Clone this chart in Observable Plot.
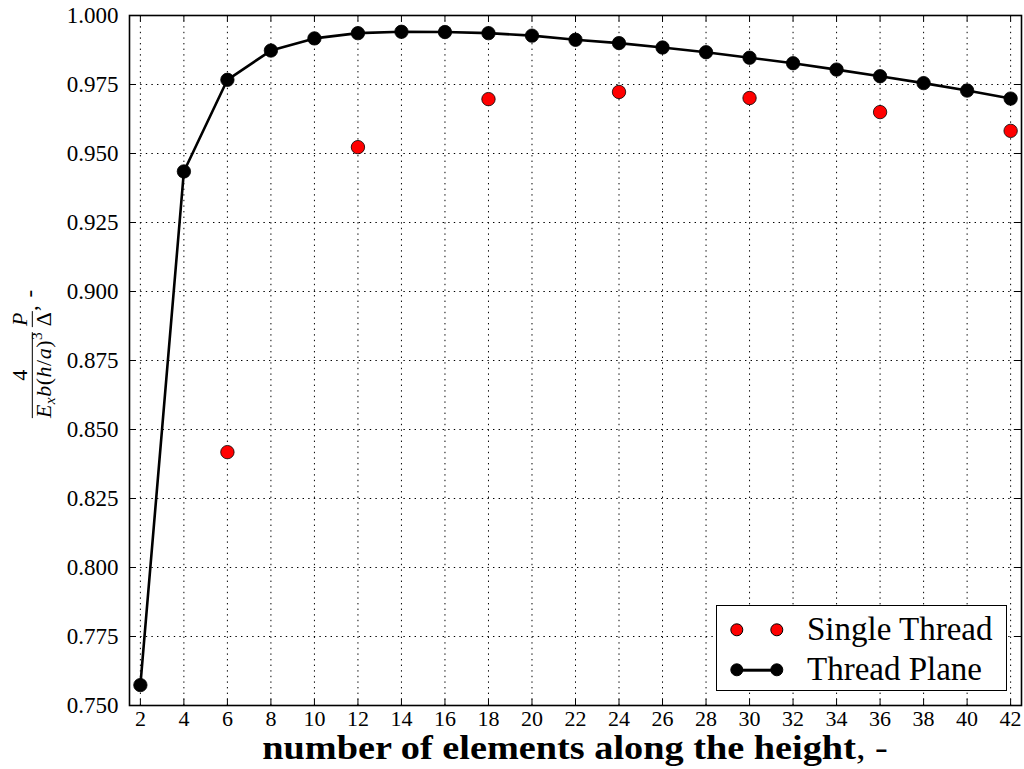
<!DOCTYPE html>
<html>
<head>
<meta charset="utf-8">
<script src="https://cdn.jsdelivr.net/npm/d3@7"></script>
<script src="https://cdn.jsdelivr.net/npm/@observablehq/plot@0.6"></script>
<style>
  html, body { margin: 0; padding: 0; background: white; }
  #wrap { position: relative; width: 1024px; height: 769px; overflow: hidden; font-family: "Liberation Serif", serif; color: black; }
  #wrap svg { position: absolute; left: 0; top: 0; z-index: 0; }
  .over { z-index: 2; }
  #xlabel { position: absolute; left: 575px; top: 739px; transform: translateX(-50%) scaleX(1.16); white-space: nowrap;
            font-size: 33px; line-height: 0.6; }
  #xlabel b { font-weight: bold; }
  #ylabel { position: absolute; left: 32px; top: 354px; transform: translate(-50%, -50%) rotate(-90deg);
            white-space: nowrap; font-size: 23px; line-height: 1; }
  .m { font-size: 22px; letter-spacing: 0.5px; }
  .frac { display: inline-flex; flex-direction: column; align-items: stretch; vertical-align: middle; text-align: center; line-height: 0.85; }
  .frac .num { border-bottom: 1.1px solid black; padding: 0 1px 2px 1px; }
  .frac .den { padding-top: 2px; }
  .m sub, .m sup { font-size: 70%; line-height: 0; }
  .m sub { vertical-align: -0.25em; }
  .m sup { vertical-align: 0.55em; }
  #legend { position: absolute; left: 716px; top: 605px; width: 291px; height: 86px; box-sizing: border-box;
            border: 1.5px solid black; background: white; }
  .lg-row { position: absolute; left: 0; width: 100%; height: 0; }
  .lg-dot { position: absolute; width: 13.4px; height: 13.4px; border-radius: 50%; box-sizing: border-box;
            transform: translate(-50%, -50%); top: 0; }
  .lg-line { position: absolute; height: 2.6px; transform: translateY(-50%); top: 0; background: black; }
  .lg-text { position: absolute; left: 90px; top: 0; transform: translateY(-52%); font-size: 33px; line-height: 1; white-space: nowrap; }
</style>
</head>
<body>
<div id="wrap">
  <div id="ylabel" class="over"><span class="m"><span class="frac"><span class="num">4</span><span class="den"><i>E</i><sub><i>x</i></sub><i>b</i>(<i>h</i>/<i>a</i>)<sup>3</sup></span></span>&#8201;<span class="frac"><span class="num"><i>P</i></span><span class="den">Δ</span></span></span><span>, &#8202;-</span></div>
  <div id="xlabel" class="over"><b>number of elements along the height</b>, -</div>
  <div id="legend" class="over"></div>
</div>
<script>
// ---------- data ----------
const elements = [2, 4, 6, 8, 10, 12, 14, 16, 18, 20, 22, 24, 26, 28, 30, 32, 34, 36, 38, 40, 42];
const threadPlane = [0.7574, 0.9435, 0.9767, 0.9873, 0.9917, 0.9936, 0.9941, 0.9940, 0.9936, 0.9927,
                     0.9912, 0.9900, 0.9884, 0.9867, 0.9847, 0.9827, 0.9804, 0.9780, 0.9755, 0.9728, 0.9699];
const singleElements = [6, 12, 18, 24, 30, 36, 42];
const singleThread = [0.8418, 0.9523, 0.9697, 0.9723, 0.9701, 0.9650, 0.9582];
const xTicks = [2, 4, 6, 8, 10, 12, 14, 16, 18, 20, 22, 24, 26, 28, 30, 32, 34, 36, 38, 40, 42];
const yTicks = [0.750, 0.775, 0.800, 0.825, 0.850, 0.875, 0.900, 0.925, 0.950, 0.975, 1.000];
const yTickLabels = ["0.750", "0.775", "0.800", "0.825", "0.850", "0.875", "0.900", "0.925", "0.950", "0.975", "1.000"];
const seriesNames = ["Single Thread", "Thread Plane"];

const planeData = elements.map((x, i) => ({x, y: threadPlane[i]}));
const singleData = singleElements.map((x, i) => ({x, y: singleThread[i]}));

const W = 1024, H = 769, mL = 129, mR = 3, mT = 15, mB = 64;
const plotW = W - mL - mR, plotH = H - mT - mB;
const tickLen = 6;
const gridStyle = {stroke: "black", strokeOpacity: 1, strokeWidth: 1, strokeDasharray: "1.4,4.2"};

const chart = Plot.plot({
  width: W, height: H,
  marginLeft: mL, marginRight: mR, marginTop: mT, marginBottom: mB,
  style: {fontFamily: "Liberation Serif, serif", fontSize: "23px", background: "white", color: "black", overflow: "visible"},
  x: {domain: [1.5, 42.5]},
  y: {domain: [0.75, 1.0]},
  marks: [
    Plot.gridX(xTicks, gridStyle),
    Plot.gridY(yTicks, gridStyle),
    Plot.axisX(xTicks, {anchor: "bottom", tickSize: 0, tickPadding: 5, fontSize: 22, label: null}),
    Plot.axisY(yTicks, {anchor: "left", tickSize: 0, tickPadding: 11, fontSize: 23, label: null,
                        tickFormat: (d) => yTickLabels[yTicks.indexOf(d)]}),
    Plot.tickX(xTicks, {x: d => d, insetTop: plotH - tickLen, stroke: "black", strokeWidth: 1}),
    Plot.tickX(xTicks, {x: d => d, insetBottom: plotH - tickLen, stroke: "black", strokeWidth: 1}),
    Plot.tickY(yTicks, {y: d => d, insetRight: plotW - tickLen, stroke: "black", strokeWidth: 1}),
    Plot.tickY(yTicks, {y: d => d, insetLeft: plotW - tickLen, stroke: "black", strokeWidth: 1}),
    Plot.line(planeData, {x: "x", y: "y", stroke: "black", strokeWidth: 2.6}),
    Plot.dot(planeData, {x: "x", y: "y", r: 6.7, fill: "black", stroke: "black", strokeWidth: 0.8}),
    Plot.dot(singleData, {x: "x", y: "y", r: 6.7, fill: "#ff0000", stroke: "black", strokeWidth: 0.8}),
    Plot.frame({stroke: "black", strokeWidth: 1.6})
  ]
});
const wrap = document.getElementById("wrap");
wrap.insertBefore(chart, wrap.firstChild);

// ---------- legend ----------
const legend = document.getElementById("legend");
const rowsY = [24, 64];
seriesNames.forEach((name, i) => {
  const row = document.createElement("div");
  row.className = "lg-row";
  row.style.top = rowsY[i] + "px";
  if (i === 1) {
    const ln = document.createElement("div");
    ln.className = "lg-line";
    ln.style.left = "20px"; ln.style.width = "40px";
    row.appendChild(ln);
  }
  [20, 60].forEach(cx => {
    const d = document.createElement("div");
    d.className = "lg-dot";
    d.style.left = cx + "px";
    d.style.background = i === 0 ? "#ff0000" : "black";
    d.style.border = "0.8px solid black";
    row.appendChild(d);
  });
  const t = document.createElement("div");
  t.className = "lg-text";
  t.textContent = name;
  row.appendChild(t);
  legend.appendChild(row);
});
</script>
</body>
</html>
